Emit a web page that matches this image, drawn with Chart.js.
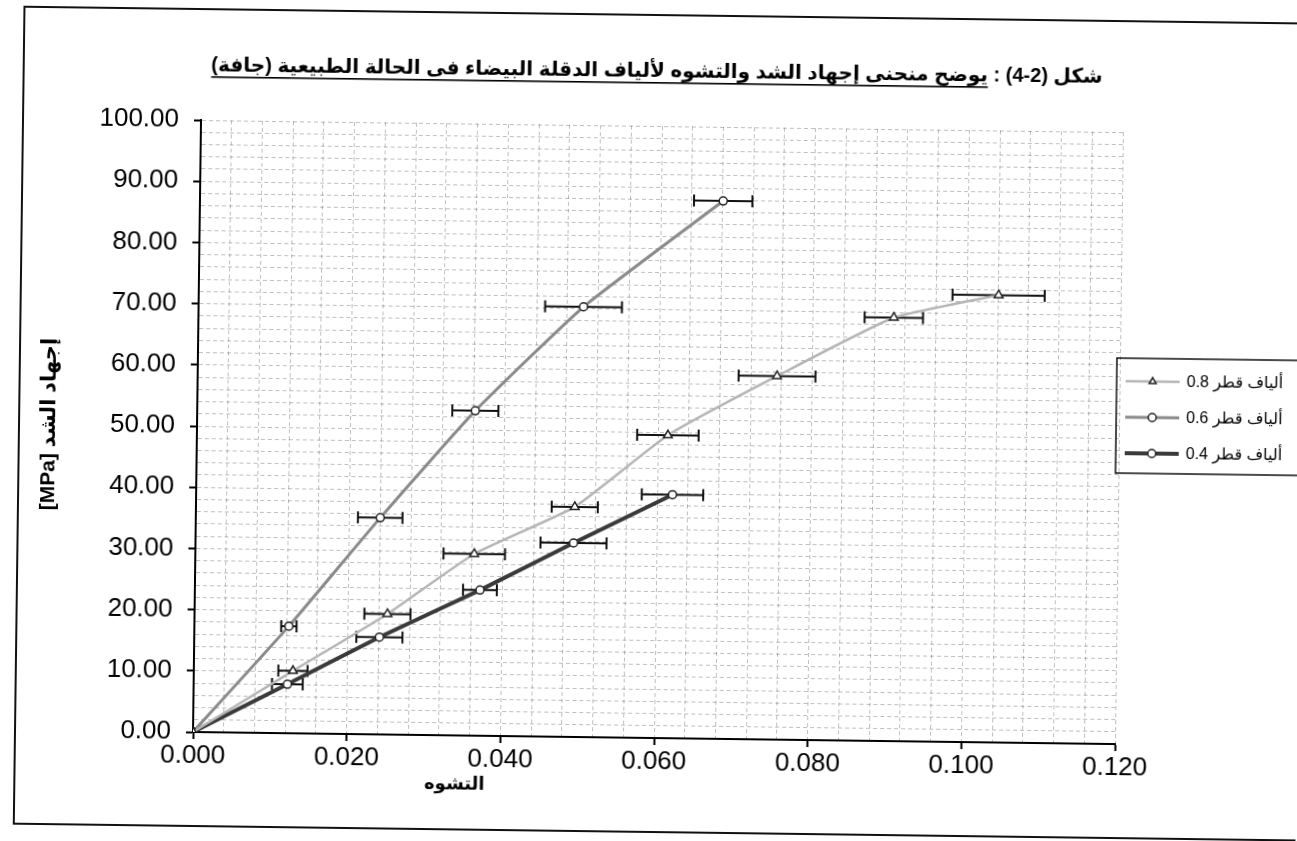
<!DOCTYPE html>
<html>
<head>
<meta charset="utf-8">
<title>منحنى إجهاد الشد والتشوه</title>
<script src="https://cdn.jsdelivr.net/npm/chart.js@4.4.1/dist/chart.umd.min.js"></script>
<style>
html,body{margin:0;padding:0;background:#fff;}
#wrap{position:relative;width:1297px;height:841px;overflow:hidden;background:#fff;}
#chart{display:block;transform:rotate(0.75deg);transform-origin:193px 732px;}
</style>
</head>
<body>
<div id="wrap"><canvas id="chart" width="1297" height="841"></canvas></div>
<script>
// texts
const titleHead = 'شكل (2-4) : ';
const titleUnderlined = 'يوضح منحنى إجهاد الشد والتشوه لألياف الدقلة البيضاء فى الحالة الطبيعية (جافة)';
const xTitle = 'التشوه';
const yTitle = '[MPa] إجهاد الشد';
const seriesNames = ['ألياف قطر 0.8', 'ألياف قطر 0.6', 'ألياف قطر 0.4'];

// fibre diameter 0.8
const strain08 = [0, 0.0129, 0.0251, 0.0363, 0.0493, 0.0613, 0.0754, 0.0905, 0.1041];
const stress08 = [0, 10.2, 19.7, 29.7, 37.6, 49.5, 59.4, 69.2, 73.1];
const err08    = [0, 0.0019, 0.003, 0.004, 0.003, 0.004, 0.005, 0.0038, 0.006];

// fibre diameter 0.6
const strain06 = [0, 0.0123, 0.0240, 0.0362, 0.0501, 0.0681];
const stress06 = [0, 17.5, 35.4, 53.1, 70.3, 87.9];
const err06    = [0, 0.001, 0.0029, 0.003, 0.005, 0.0038];

// fibre diameter 0.4
const strain04 = [0, 0.0122, 0.0241, 0.0371, 0.0492, 0.0620];
const stress04 = [0, 8.0, 15.9, 23.8, 31.7, 39.8];
const err04    = [0, 0.002, 0.003, 0.0022, 0.0043, 0.004];

// axes
const xMin = 0, xMax = 0.12, xMajor = 0.02, xMinor = 0.004;
const yMin = 0, yMax = 100, yMajor = 10, yMinor = 2;

const FONT = '"Liberation Sans", Arial, "DejaVu Sans", sans-serif';
const lineColors = ['#b5b5b5', '#8a8a8a', '#3a3a3a'];
const lineWidths = [2.5, 3, 4];
const markers = ['triangle', 'circle', 'circle'];
const errs = [err08, err06, err04];

const pts = (xs, ys) => xs.map((x, i) => ({x, y: ys[i]}));
const isMajor = (v, step) => Math.abs(v / step - Math.round(v / step)) < 1e-6;

function ds(i, xs, ys){
  return {
    label: seriesNames[i],
    data: pts(xs, ys),
    showLine: true,
    borderColor: lineColors[i],
    borderWidth: lineWidths[i],
    tension: 0.15,
    pointStyle: markers[i],
    pointRadius: markers[i] === 'triangle' ? 5 : 4,
    pointBackgroundColor: '#fff',
    pointBorderColor: '#222',
    pointBorderWidth: 1.5
  };
}

// horizontal error bars, drawn under the lines/markers
const errorBars = {
  id: 'errorBars',
  beforeDatasetsDraw(chart){
    const {ctx, scales:{x, y}} = chart;
    ctx.save();
    ctx.strokeStyle = '#111';
    ctx.lineWidth = 2;
    errs.forEach((e, di) => {
      chart.data.datasets[di].data.forEach((p, i) => {
        if (!e[i]) return;
        const py = y.getPixelForValue(p.y);
        const x1 = x.getPixelForValue(p.x - e[i]);
        const x2 = x.getPixelForValue(p.x + e[i]);
        ctx.beginPath();
        ctx.moveTo(x1, py); ctx.lineTo(x2, py);
        ctx.moveTo(x1, py - 6); ctx.lineTo(x1, py + 6);
        ctx.moveTo(x2, py - 6); ctx.lineTo(x2, py + 6);
        ctx.stroke();
      });
    });
    ctx.restore();
  }
};

// frame, title, x title, legend
const decor = {
  id: 'decor',
  beforeDraw(chart){
    const ctx = chart.ctx;
    ctx.save();
    ctx.fillStyle = '#fff';
    ctx.fillRect(0, 0, chart.width, chart.height);
    ctx.restore();
  },
  afterDraw(chart){
    const ctx = chart.ctx;
    ctx.save();
    // outer frame
    ctx.strokeStyle = '#111';
    ctx.lineWidth = 2;
    ctx.strokeRect(15, 9, 1300, 817);

    // title (rtl), underline the descriptive part
    ctx.fillStyle = '#000';
    ctx.font = 'bold 20px ' + FONT;
    ctx.direction = 'rtl';
    ctx.textAlign = 'right';
    ctx.textBaseline = 'alphabetic';
    const full = titleHead + titleUnderlined;
    const W = ctx.measureText(full).width;
    const U = ctx.measureText(titleUnderlined).width;
    const tx = 1094, ty = 71;
    ctx.fillText(full, tx, ty);
    ctx.fillRect(tx - W, ty + 5, U, 1.6);

    // x axis title
    ctx.textAlign = 'center';
    ctx.font = 'bold 18px ' + FONT;
    ctx.fillText(xTitle, 455, 786);

    // legend
    const lx = 1112, ly = 346;
    ctx.lineWidth = 1.5;
    ctx.strokeStyle = '#111';
    ctx.strokeRect(lx, ly, 200, 115);
    seriesNames.forEach((name, i) => {
      const cy = ly + 23 + i * 36;
      ctx.strokeStyle = lineColors[i];
      ctx.lineWidth = lineWidths[i];
      ctx.beginPath();
      ctx.moveTo(lx + 9, cy); ctx.lineTo(lx + 63, cy);
      ctx.stroke();
      ctx.fillStyle = '#fff';
      ctx.strokeStyle = '#222';
      ctx.lineWidth = 1.5;
      Chart.helpers.drawPoint(ctx, {pointStyle: markers[i], radius: 4, rotation: 0, borderWidth: 1.5}, lx + 36, cy);
      ctx.fillStyle = '#000';
      ctx.font = '16px ' + FONT;
      ctx.direction = 'rtl';
      ctx.textAlign = 'left';
      ctx.textBaseline = 'middle';
      ctx.fillText(name, lx + 70, cy + 1);
    });
    ctx.restore();
  }
};

const gridColor = 'rgba(0,0,0,0.25)';

new Chart(document.getElementById('chart'), {
  type: 'scatter',
  data: {
    datasets: [
      ds(0, strain08, stress08),
      ds(1, strain06, stress06),
      ds(2, strain04, stress04)
    ]
  },
  options: {
    responsive: false,
    animation: false,
    devicePixelRatio: 1,
    layout: {padding: {left: 30, right: 182, top: 120, bottom: 49}},
    plugins: {legend: {display: false}, tooltip: {enabled: false}, title: {display: false}},
    scales: {
      x: {
        type: 'linear', min: xMin, max: xMax,
        ticks: {
          stepSize: xMinor, autoSkip: false, maxRotation: 0, minRotation: 0,
          color: '#000', padding: 1, font: {size: 26, family: FONT},
          callback: v => isMajor(v, xMajor) ? v.toFixed(3) : ''
        },
        grid: {
          color: gridColor, lineWidth: 1,
          tickLength: 7, tickWidth: 2, tickBorderDash: [],
          tickColor: c => isMajor(c.tick.value, xMajor) ? '#000' : 'rgba(0,0,0,0)'
        },
        border: {color: '#000', width: 2, dash: [4, 3]},
        afterFit: s => { s.height = 60; }
      },
      y: {
        type: 'linear', min: yMin, max: yMax,
        ticks: {
          stepSize: yMinor, autoSkip: false,
          color: '#000', padding: 15, font: {size: 26, family: FONT},
          callback: v => isMajor(v, yMajor) ? v.toFixed(2) : ''
        },
        grid: {
          color: gridColor, lineWidth: 1,
          tickLength: 7, tickWidth: 2, tickBorderDash: [],
          tickColor: c => isMajor(c.tick.value, yMajor) ? '#000' : 'rgba(0,0,0,0)'
        },
        border: {color: '#000', width: 2, dash: [4, 3]},
        title: {display: true, text: yTitle, color: '#000', font: {size: 21, weight: 'bold', family: FONT}, padding: {top: 3, bottom: 0}},
        afterFit: s => { s.width = 163; }
      }
    }
  },
  plugins: [errorBars, decor]
});
</script>
</body>
</html>
